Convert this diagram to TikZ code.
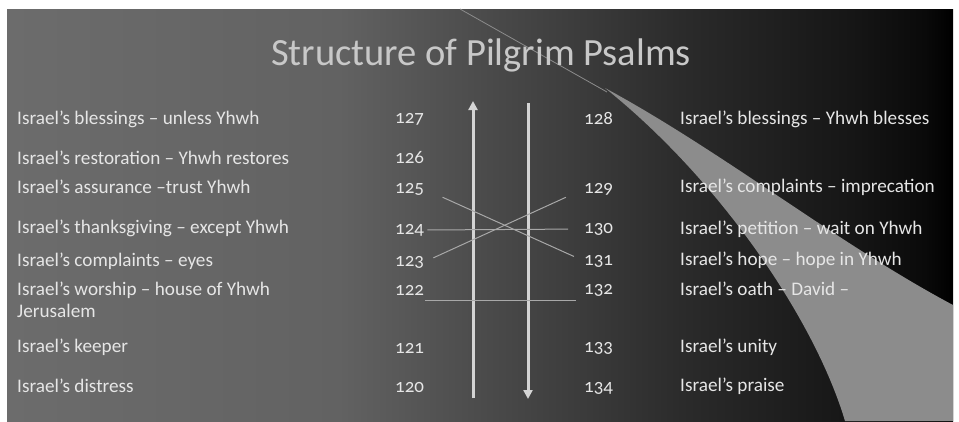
\documentclass[tikz,border=0pt]{standalone}
\usepackage{fontspec}
\setmainfont{Carlito}[Numbers=OldStyle]
\usetikzlibrary{arrows.meta}
\definecolor{g1}{HTML}{6C6C6C}
\definecolor{g2}{HTML}{626262}
\definecolor{g3}{HTML}{444444}
\definecolor{g4}{HTML}{2A2A2A}
\definecolor{g5}{HTML}{151515}
\definecolor{g6}{HTML}{0A0A0A}
\definecolor{swooshc}{HTML}{8C8C8C}
\definecolor{txtc}{HTML}{E6E6E6}
\definecolor{titlec}{HTML}{C8C8C8}
\definecolor{arrowc}{HTML}{D4D4D4}
\definecolor{linkc}{HTML}{A8A8A8}
\pgfdeclarehorizontalshading{bgshade}{100bp}{color(0bp)=(g1); color(25bp)=(g1); color(42.5bp)=(g2); color(52.5bp)=(g3); color(61bp)=(g4); color(70bp)=(g5); color(73.5bp)=(g6); color(75bp)=(black); color(100bp)=(black)}
\tikzset{
  lbl/.style={anchor=west, inner sep=0pt, text=txtc, font=\fontsize{19.2}{22}\selectfont, align=left},
  num/.style={anchor=west, inner sep=0pt, text=txtc, font=\fontsize{19}{20}\selectfont},
  bigarrow/.style={draw=arrowc, line width=3pt, -{Triangle[length=9pt,width=9pt]}},
  link/.style={draw=linkc, line width=1pt},
  ttl/.style={inner sep=0pt, text=titlec, font=\fontsize{38.5}{44}\selectfont}
}
\begin{document}
\begin{tikzpicture}[x=1pt,y=-1pt]
\useasboundingbox (0,0) rectangle (959,421);
\fill[white] (0,0) rectangle (959,421);
\shade[shading=bgshade] (7,9) rectangle (953,421);
% swoosh
\fill[swooshc] (605,88) .. controls (720,150) and (840,245) .. (953,305) -- (953,421) -- (845,421) .. controls (815,320) and (720,180) .. (605,88) -- cycle;
\draw[swooshc, line width=0.8pt] (460,9) -- (607,92);
% title
\node[ttl] (title) at (481,55) {Structure of Pilgrim Psalms};
% left labels
\node[lbl] (l127) at (17,119) {Israel’s blessings – unless Yhwh};
\node[lbl] (l126) at (17,158) {Israel’s restoration – Yhwh restores};
\node[lbl] (l125) at (17,187) {Israel’s assurance –trust Yhwh};
\node[lbl] (l124) at (17,228) {Israel’s thanksgiving – except Yhwh};
\node[lbl] (l123) at (17,261) {Israel’s complaints – eyes};
\node[lbl] (l122) at (17,300) {Israel’s worship – house of Yhwh\\Jerusalem};
\node[lbl] (l121) at (17,347) {Israel’s keeper};
\node[lbl] (l120) at (17,386) {Israel’s distress};
% left numbers
\node[num] (n127) at (395,119) {127};
\node[num] (n126) at (395,158) {126};
\node[num] (n125) at (395,189) {125};
\node[num] (n124) at (395,230) {124};
\node[num] (n123) at (395,262) {123};
\node[num] (n122) at (395,290) {122};
\node[num] (n121) at (395,348) {121};
\node[num] (n120) at (395,387) {120};
% right numbers
\node[num] (n128) at (584,118) {128};
\node[num] (n129) at (584,189) {129};
\node[num] (n130) at (584,229) {130};
\node[num] (n131) at (584,261) {131};
\node[num] (n132) at (584,290) {132};
\node[num] (n133) at (584,348) {133};
\node[num] (n134) at (584,388) {134};
% right labels
\node[lbl] (r128) at (680,119) {Israel’s blessings – Yhwh blesses};
\node[lbl] (r129) at (680,187) {Israel’s complaints – imprecation};
\node[lbl] (r130) at (680,229) {Israel’s petition – wait on Yhwh};
\node[lbl] (r131) at (680,260) {Israel’s hope – hope in Yhwh};
\node[lbl] (r132) at (680,289) {Israel’s oath – David –};
\node[lbl] (r133) at (680,347) {Israel’s unity};
\node[lbl] (r134) at (680,386) {Israel’s praise};
% big arrows
\coordinate (ub) at (473,398);
\coordinate (ut) at (473,101);
\coordinate (db) at (528,399);
\coordinate (dt) at (528,103);
\draw[bigarrow] (ub) -- (ut);
\draw[bigarrow] (dt) -- (db);
% links
\draw[link, shorten <=3pt, shorten >=16pt] (n124.east) -- (n130.west);
\coordinate (u1) at (425,300);
\coordinate (u2) at (576,300);
\draw[link] (u1) -- (u2);
\draw[link, shorten <=20pt, shorten >=11pt] (n125.east) -- (n131.west);
\draw[link, shorten <=10pt, shorten >=20pt] (n123.east) -- (n129.west);
\end{tikzpicture}
\end{document}
